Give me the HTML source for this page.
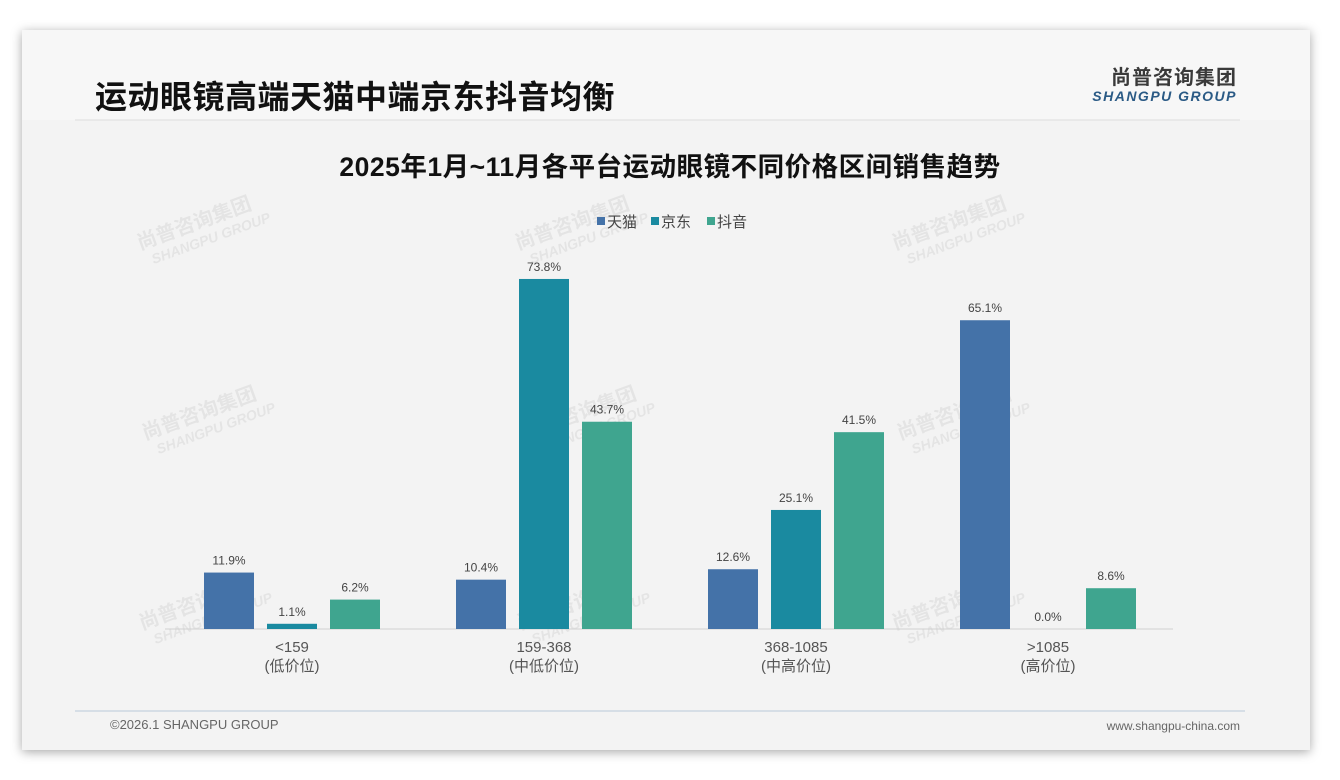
<!DOCTYPE html>
<html><head><meta charset="utf-8">
<style>
body{margin:0;width:1340px;height:780px;background:#fff;font-family:"Liberation Sans","Noto Sans CJK SC",sans-serif;position:relative;overflow:hidden}
#card{position:absolute;left:22px;top:30px;width:1288px;height:720px;background:#f3f3f3;box-shadow:0 2px 10px rgba(0,0,0,.35)}
</style></head><body>
<div id="card"></div>
<svg width="1340" height="780" style="position:absolute;left:0;top:0">
<rect x="22" y="30" width="1288" height="90" fill="#f7f7f7"/>
<text x="95" y="108" font-size="32" font-weight="bold" fill="#111" letter-spacing="0.5" font-family="Liberation Sans,Noto Sans CJK SC,sans-serif">运动眼镜高端天猫中端京东抖音均衡</text>
<text x="1237" y="84" text-anchor="end" font-size="20" font-weight="bold" fill="#3a3a3a" letter-spacing="1" font-family="Noto Sans CJK SC,sans-serif">尚普咨询集团</text>
<text x="1237" y="101" text-anchor="end" font-size="14" font-weight="bold" font-style="italic" fill="#2a5a85" letter-spacing="1.5">SHANGPU GROUP</text>
<line x1="75" y1="120" x2="1240" y2="120" stroke="#dcdcdc"/>
<text x="670" y="176" text-anchor="middle" font-size="26.5" font-weight="bold" fill="#111" letter-spacing="0.5" font-family="Liberation Sans,Noto Sans CJK SC,sans-serif">2025年1月~11月各平台运动眼镜不同价格区间销售趋势</text>
<g id="wm" fill="#000" opacity="0.06" font-weight="bold" font-family="Noto Sans CJK SC,sans-serif"></g>
<g id="legend"></g>
<line x1="165" y1="629" x2="1173" y2="629" stroke="#d0d0d0"/>
<g id="bars"></g>
<line x1="75" y1="711" x2="1245" y2="711" stroke="#b8c8d8"/>
<text x="110" y="729" font-size="13" fill="#666">©2026.1 SHANGPU GROUP</text>
<text x="1240" y="730" text-anchor="end" font-size="12" fill="#666">www.shangpu-china.com</text>
</svg>
<script>
const categories=["<159","159-368","368-1085",">1085"];
const subLabels=["(低价位)","(中低价位)","(中高价位)","(高价位)"];
const seriesNames=["天猫","京东","抖音"];
const tmall=[11.9,10.4,12.6,65.1];
const jd=[1.1,73.8,25.1,0.0];
const douyin=[6.2,43.7,41.5,8.6];
const colors=["#4472a8","#1a8aa0","#3fa58f"];
const NS="http://www.w3.org/2000/svg";
const base=629,scale=4.743,x0=292,step=252,off=63,bw=50;
const yS=v=>base-v*scale, xC=i=>x0+i*step;
function mk(t,a,p){const e=document.createElementNS(NS,t);for(const k in a)e.setAttribute(k,a[k]);p.appendChild(e);return e;}
const bars=document.getElementById('bars');
[tmall,jd,douyin].forEach((s,si)=>{s.forEach((v,i)=>{
 const cx=xC(i)+(si-1)*off;
 const r=mk('rect',{x:cx-bw/2,y:yS(v),width:bw,height:v*scale,fill:colors[si]},bars);
 
 
 const t=mk('text',{x:cx,y:yS(v)-8,'text-anchor':'middle','font-size':12,fill:'#444'},bars);
 t.textContent=v.toFixed(1)+'%';
 
 
});});
categories.forEach((c,i)=>{
 const t=mk('text',{x:xC(i),y:652,'text-anchor':'middle','font-size':15,fill:'#555'},bars);t.textContent=c;
 
 
 const t2=mk('text',{x:xC(i),y:671,'text-anchor':'middle','font-size':15,fill:'#555','font-family':'Liberation Sans,Noto Sans CJK SC,sans-serif'},bars);t2.textContent=subLabels[i];
 
 
});
const lg=document.getElementById('legend');
[597,651,707].forEach((x,i)=>{
 const r=mk('rect',{x:x,y:217,width:8,height:8,fill:colors[i]},lg);
 
 
 const t=mk('text',{x:x+10,y:227,'font-size':15,fill:'#444','font-family':'Noto Sans CJK SC,sans-serif'},lg);t.textContent=seriesNames[i];
 
 
});
const wm=document.getElementById('wm');
[[140,250],[518,250],[895,250],[145,440],[525,440],[900,440],[142,630],[520,630],[895,630]].forEach(p=>{
 const g=mk('g',{transform:`translate(${p[0]},${p[1]}) rotate(-20)`},wm);
 const a=mk('text',{x:0,y:0,'font-size':20},g);a.textContent='尚普咨询集团';
 const b=mk('text',{x:8,y:18,'font-size':14,'font-style':'italic','font-family':'Liberation Sans,sans-serif'},g);b.textContent='SHANGPU GROUP';
 
 
});
</script>
</body></html>
